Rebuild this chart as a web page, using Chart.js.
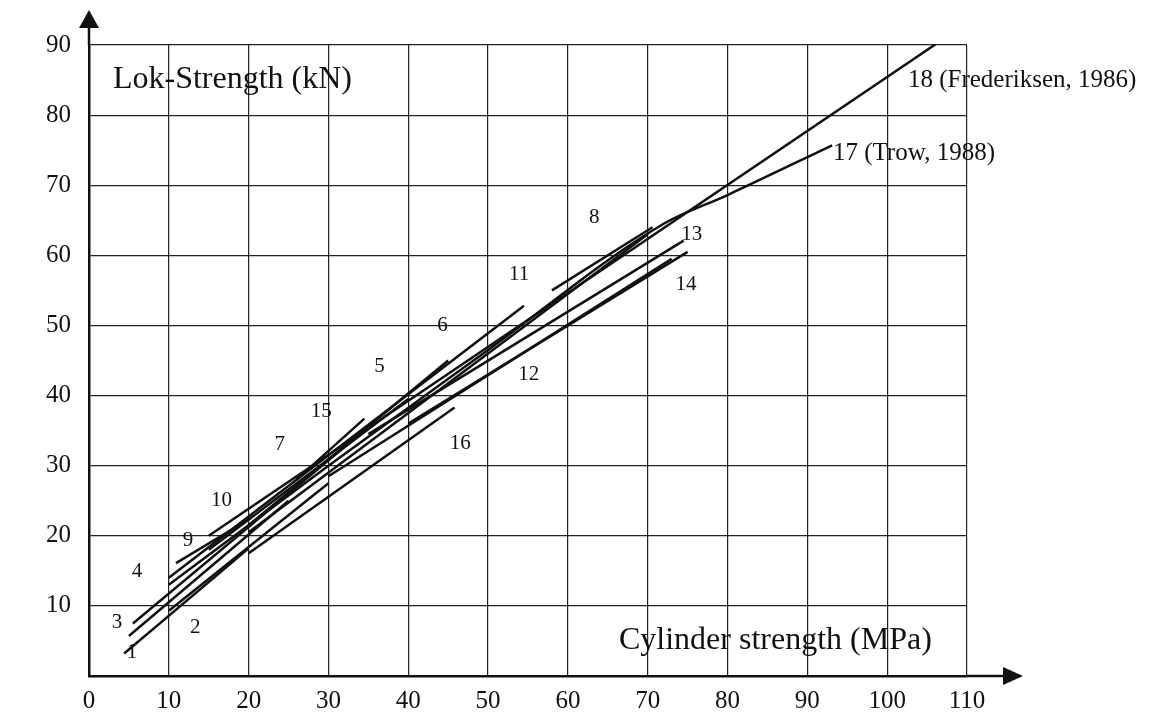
<!DOCTYPE html>
<html>
<head>
<meta charset="utf-8">
<script src="https://cdn.jsdelivr.net/npm/chart.js@4.4.0/dist/chart.umd.min.js"></script>
<style>
body { margin:0; background:#fff; }
#wrap { width:1160px; height:716px; }
</style>
</head>
<body>
<div id="wrap"><canvas id="myChart" width="1160" height="716"></canvas></div>
<script>
// numbers of the straight correlation lines, as printed on the figure
var lineNo = ['1','2','3','4','5','6','7','8','9','10','11','12','13','14','15','16','18'];
// start / end of every line: cylinder strength (MPa) -> Lok-strength (kN)
var xFrom = [4.4, 10, 5, 5.5, 20, 30, 15, 58, 10.9, 10, 20, 30, 35, 40, 26, 20, 15];
var yFrom = [3.2, 9.3, 5.7, 7.5, 21.5, 31.5, 18, 55, 16.1, 14, 20.5, 28.5, 34.5, 36, 28, 17.5, 20];
var xTo = [20, 30, 25, 35, 45, 54.5, 40, 70.6, 20.4, 30, 70, 73, 74.5, 75, 34.5, 45.8, 108];
var yTo = [18.2, 27.5, 25, 35.5, 45, 52.8, 39.5, 64, 22.6, 31.5, 63, 59.5, 62.1, 60.5, 36.7, 38.3, 91.6];

// line 17 (Trow, 1988) bends away from the others
var trowX = [10, 30, 50, 72, 80, 93.1];
var trowY = [13, 30, 46.5, 64.5, 68.6, 75.7];

var xTicks = [0, 10, 20, 30, 40, 50, 60, 70, 80, 90, 100, 110];
var yTicks = [10, 20, 30, 40, 50, 60, 70, 80, 90];

// texts written inside the plot (anchored in data units)
var noteText = ['1','2','3','4','9','10','7','15','5','6','11','8','13','14','12','16'];
var noteX = [5.4, 13.3, 3.5, 6, 12.4, 16.6, 23.9, 29.1, 36.4, 44.3, 53.9, 63.3, 75.5, 74.8, 55.1, 46.5];
var noteY = [3.3, 6.9, 7.6, 14.9, 19.4, 25.1, 33, 37.7, 44.1, 50, 57.3, 65.4, 63, 55.9, 43, 33.1];

var serif = "'Liberation Serif', 'DejaVu Serif', serif";
var ink = '#111';

var datasets = [];
for (var i = 0; i < lineNo.length; i++) {
  datasets.push({
    label: lineNo[i],
    data: [{x: xFrom[i], y: yFrom[i]}, {x: xTo[i], y: yTo[i]}],
    showLine: true,
    borderColor: ink,
    borderWidth: 2.5,
    pointRadius: 0,
    fill: false
  });
}
var trowPts = [];
for (var j = 0; j < trowX.length; j++) trowPts.push({x: trowX[j], y: trowY[j]});
datasets.push({
  label: '17',
  data: trowPts,
  showLine: true,
  cubicInterpolationMode: 'monotone',
  borderColor: ink,
  borderWidth: 2.5,
  pointRadius: 0,
  fill: false
});

// arrows on the axes and the written labels
var extras = {
  id: 'extras',
  afterDraw: function(chart) {
    var ctx = chart.ctx;
    var a = chart.chartArea;
    var sx = chart.scales.x, sy = chart.scales.y;
    var x0 = sx.getPixelForValue(0);
    var y0 = sy.getPixelForValue(0);
    ctx.save();
    ctx.strokeStyle = ink;
    ctx.fillStyle = ink;
    ctx.lineWidth = 2.5;
    // y axis arrow
    ctx.beginPath();
    ctx.moveTo(x0, a.top);
    ctx.lineTo(x0, a.top - 20);
    ctx.stroke();
    ctx.beginPath();
    ctx.moveTo(x0, a.top - 35);
    ctx.lineTo(x0 - 10, a.top - 17);
    ctx.lineTo(x0 + 10, a.top - 17);
    ctx.closePath();
    ctx.fill();
    // x axis arrow
    ctx.beginPath();
    ctx.moveTo(a.right, y0);
    ctx.lineTo(a.right + 40, y0);
    ctx.stroke();
    ctx.beginPath();
    ctx.moveTo(a.right + 56, y0);
    ctx.lineTo(a.right + 36, y0 - 9);
    ctx.lineTo(a.right + 36, y0 + 9);
    ctx.closePath();
    ctx.fill();

    ctx.textBaseline = 'middle';
    ctx.textAlign = 'center';
    ctx.font = '21px ' + serif;
    for (var k = 0; k < noteText.length; k++) {
      ctx.fillText(noteText[k], sx.getPixelForValue(noteX[k]), sy.getPixelForValue(noteY[k]));
    }
    ctx.textAlign = 'left';
    ctx.font = '25px ' + serif;
    ctx.fillText('18 (Frederiksen, 1986)', sx.getPixelForValue(102.6), sy.getPixelForValue(84.9));
    ctx.fillText('17 (Trow, 1988)', sx.getPixelForValue(93.2), sy.getPixelForValue(74.6));
    ctx.font = '32px ' + serif;
    ctx.fillText('Lok-Strength (kN)', sx.getPixelForValue(3), sy.getPixelForValue(85.1));
    ctx.fillText('Cylinder strength (MPa)', sx.getPixelForValue(66.4), sy.getPixelForValue(5.1));
    ctx.restore();
  }
};

var canvas = document.getElementById('myChart');
var myChart = new Chart(canvas, {
  type: 'scatter',
  data: {datasets: datasets},
  options: {
    responsive: false,
    animation: false,
    layout: {padding: {top: 45, right: 193, left: 0, bottom: 0}},
    plugins: {legend: {display: false}, tooltip: {enabled: false}},
    scales: {
      x: {
        type: 'linear',
        min: 0,
        max: 110,
        afterBuildTicks: function(s) { s.ticks = xTicks.map(function(v) { return {value: v}; }); },
        afterFit: function(s) { s.height = 40; },
        ticks: {color: ink, font: {family: serif, size: 25}, padding: 10, maxRotation: 0},
        grid: {color: '#222', lineWidth: 1.2, drawTicks: false},
        border: {color: ink, width: 2.5}
      },
      y: {
        min: 0,
        max: 90,
        afterBuildTicks: function(s) { s.ticks = [{value: 0}].concat(yTicks.map(function(v) { return {value: v}; })); },
        afterFit: function(s) { s.width = 89; },
        ticks: {
          color: ink,
          font: {family: serif, size: 25},
          padding: 18,
          callback: function(v) { return v === 0 ? '' : v; }
        },
        grid: {color: '#222', lineWidth: 1.2, drawTicks: false},
        border: {color: ink, width: 2.5}
      }
    }
  },
  plugins: [extras]
});
</script>
</body>
</html>
